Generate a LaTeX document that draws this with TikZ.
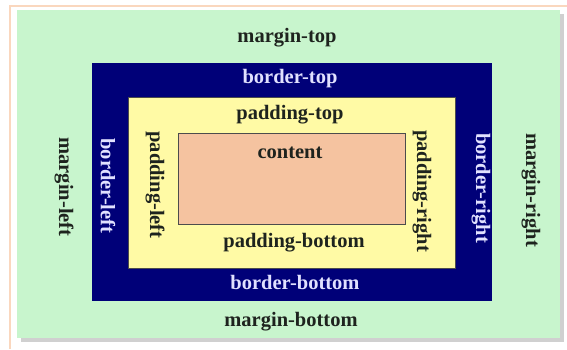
\documentclass[tikz,border=0pt]{standalone}
\usepackage{fontspec}
\setmainfont{Liberation Serif}
\usetikzlibrary{positioning,calc}
\definecolor{marginfill}{RGB}{200,245,205}
\definecolor{borderfill}{RGB}{0,0,120}
\definecolor{paddingfill}{RGB}{255,250,165}
\definecolor{contentfill}{RGB}{245,195,160}
\definecolor{darktext}{RGB}{30,35,30}
\definecolor{lighttext}{RGB}{225,225,255}
\definecolor{framepeach}{RGB}{250,215,190}

\begin{document}
\begin{tikzpicture}[x=1pt, y=-1pt, every node/.style={font=\fontsize{20.5}{22}\selectfont\bfseries}]
\tikzstyle{box}=[rectangle, inner sep=0pt, anchor=center]
\tikzstyle{lbl}=[text=darktext, inner sep=0pt]
\tikzstyle{blbl}=[text=lighttext, inner sep=0pt]

\useasboundingbox (0,0) rectangle (567,349);
\fill[white] (0,0) rectangle (567,349);
\draw[framepeach, line width=1.5pt] (10,349) -- (10,6) -- (567,6);

% nested boxes, outside in
\fill[gray!60, opacity=0.6] (21,14) rectangle (564,342);
\node[box, fill=marginfill, minimum width=543, minimum height=328] (mbox) at (288.5,174) {};
\node[box, fill=borderfill, minimum width=400, minimum height=238] (bbox) at (292,182) {};
\node[box, fill=paddingfill, draw=black!70, line width=0.6pt, minimum width=327, minimum height=171] (pbox) at (291.5,182.5) {};
\node[box, fill=contentfill, draw=black!70, line width=0.6pt, minimum width=227, minimum height=91] (cbox) at (291.5,178.5) {};

% top and bottom labels
\node[lbl] (mtop) at (287,38) {margin-top};
\node[blbl] (btop) at (290,79) {border-top};
\node[lbl] (ptop) at (290,115) {padding-top};
\node[lbl] (ctext) at (290,153) {content};
\node[lbl] (pbot) at (294,243) {padding-bottom};
\node[blbl] (bbot) at (295,282) {border-bottom};
\node[lbl] (mbot) at (291,322) {margin-bottom};

% side labels
\node[lbl, rotate=-90] (mleft) at (64,187) {margin-left};
\node[blbl, rotate=-90] (bleft) at (108,186) {border-left};
\node[lbl, rotate=-90] (pleft) at (155,185) {padding-left};
\node[lbl, rotate=-90] (pright) at (422,191) {padding-right};
\node[blbl, rotate=-90] (bright) at (481,188) {border-right};
\node[lbl, rotate=-90] (mright) at (531,190) {margin-right};
\end{tikzpicture}
\end{document}
